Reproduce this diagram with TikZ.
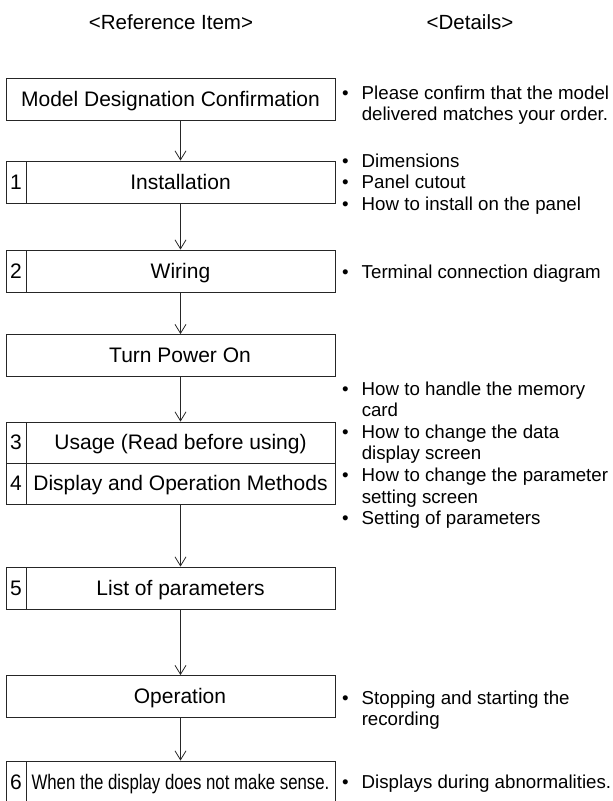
\documentclass[tikz,border=0pt]{standalone}
\usepackage{fontspec}
\usepackage{graphicx}
\setmainfont{Liberation Sans}
\usetikzlibrary{arrows.meta}
\newcommand{\dblock}[1]{\begin{tabular}[t]{@{}l@{\hspace{13pt}}l@{}}#1\end{tabular}}
\begin{document}
\begin{tikzpicture}[x=1pt,y=-1pt,
  lc/.style={draw=black!85, line width=0.8pt},
  cell/.style={lc, rectangle, minimum height=42pt, inner sep=0pt, text height=15pt, text depth=1pt, font=\fontsize{21}{25}\selectfont},
  numcell/.style={cell, minimum width=20pt},
  maincell/.style={cell, minimum width=309pt},
  widecell/.style={cell, minimum width=329pt},
  arr/.style={lc, -{Straight Barb[length=9pt,width=11pt,line width=0.8pt]}},
  title/.style={font=\fontsize{20.5}{24}\selectfont, inner sep=0pt, anchor=base},
  det/.style={anchor=base west, inner sep=0pt, font=\fontsize{18.7}{21.6}\selectfont}
]
\useasboundingbox (0,0) rectangle (613,801);
\node[title] (h1) at (171,29) {<Reference Item>};
\node[title] (h2) at (470,29) {<Details>};

\node[widecell] (m) at (170.5,99) {Model Designation Confirmation};
\node[numcell] (n1) at (16,182) {1};
\node[maincell] (b1) at (180.5,182) {Installation};
\node[numcell] (n2) at (16,271) {2};
\node[maincell] (b2) at (180.5,271) {Wiring};
\node[widecell] (t) at (170.5,355.5) {\hspace*{19pt}Turn Power On};
\node[numcell, minimum height=41pt] (n3) at (16,442.5) {3};
\node[maincell, minimum height=41pt] (b3) at (180.5,442.5) {Usage (Read before using)};
\node[numcell, minimum height=41pt] (n4) at (16,483.5) {4};
\node[maincell, minimum height=41pt] (b4) at (180.5,483.5) {Display and Operation Methods};
\node[numcell] (n5) at (16,588) {5};
\node[maincell] (b5) at (180.5,588) {List of parameters};
\node[widecell] (op) at (170.5,696.5) {\hspace*{19pt}Operation};
\node[numcell] (n6) at (16,782) {6};
\node[maincell] (b6) at (180.5,782) {\scalebox{0.8}[1]{When the display does not make sense.}};

\draw[arr] (b1.north |- m.south) -- (b1.north);
\draw[arr] (b1.south) -- (b2.north);
\draw[arr] (b2.south) -- (b2.south |- t.north);
\draw[arr] (b3.north |- t.south) -- (b3.north);
\draw[arr] (b4.south) -- (b5.north);
\draw[arr] (b5.south) -- (b5.south |- op.north);
\draw[arr] (b6.north |- op.south) -- (b6.north);

\node[det] (d1) at (342,99) {\dblock{\textbullet & Please confirm that the model\\ & delivered matches your order.}};
\node[det] (d2) at (342,167) {\dblock{\textbullet & Dimensions\\ \textbullet & Panel cutout\\ \textbullet & How to install on the panel}};
\node[det] (d3) at (342,278) {\dblock{\textbullet & Terminal connection diagram}};
\node[det] (d4) at (342,395) {\dblock{\textbullet & How to handle the memory\\ & card\\ \textbullet & How to change the data\\ & display screen\\ \textbullet & How to change the parameter\\ & setting screen\\ \textbullet & Setting of parameters}};
\node[det] (d5) at (342,704) {\dblock{\textbullet & Stopping and starting the\\ & recording}};
\node[det] (d6) at (342,788) {\dblock{\textbullet & Displays during abnormalities.}};
\end{tikzpicture}
\end{document}
